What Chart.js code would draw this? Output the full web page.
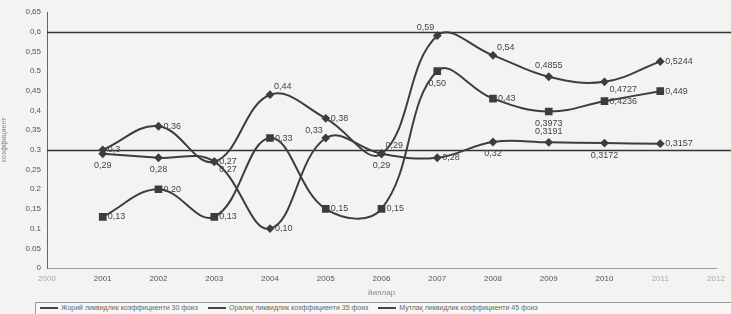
<!DOCTYPE html>
<html>
<head>
<meta charset="utf-8">
<script src="https://cdn.jsdelivr.net/npm/chart.js@4/dist/chart.umd.min.js"></script>
<style>
  body { margin: 0; background: #f3f3f1; }
  #wrap { position: relative; width: 731px; height: 314px; overflow: hidden; }
  #legend {
    position: absolute; left: 35px; top: 302px; width: 694px; height: 14px;
    border: 1px solid #999; background: #f7f7f5;
    font: 7px "Liberation Sans", Arial, sans-serif; color: #666;
    white-space: nowrap; line-height: 10px; padding-left: 4px;
    -webkit-font-smoothing: antialiased;
  }
  #legend span.sw { display: inline-block; width: 18px; height: 2px; background: #444; vertical-align: middle; margin-right: 3px; }
  #legend span.it { margin-right: 10px; }
</style>
</head>
<body>
<div id="wrap">
  <canvas id="c" width="731" height="300"></canvas>
  <div id="legend"></div>
</div>
<script>
let years = ["2000", "2001", "2002", "2003", "2004", "2005", "2006", "2007", "2008", "2009", "2010", "2011", "2012"];

let currentRatio = [null, 0.30, 0.36, 0.27, 0.44, 0.38, 0.29, 0.59, 0.54, 0.4855, 0.4727, 0.5244, null];
let quickRatio = [null, 0.13, 0.20, 0.13, 0.33, 0.15, 0.15, 0.50, 0.43, 0.3973, 0.4236, 0.449, null];
let absoluteRatio = [null, 0.29, 0.28, 0.27, 0.10, 0.33, 0.29, 0.28, 0.32, 0.3191, 0.3172, 0.3157, null];

let seriesNames = [
    "Жорий ликвидлик коэффициенти 30 фоиз",
    "Оралиқ ликвидлик коэффициенти 35 фоиз",
    "Мутлақ ликвидлик коэффициенти 45 фоиз"
];

let yTickLabels = ["0", "0.05", "0.1", "0,15", "0.2", "0,25", "0.3", "0,35", "0,4", "0,45", "0.5", "0,55", "0,6", "0,65"];
let refLines = [0.3, 0.6];

// where each value label sits next to its point
let posA = [null, "r", "r", "br", "tr", "r", "tr", "tl", "tr", "t", "br", "r", null];
let posB = [null, "r", "r", "r", "r", "r", "r", "b", "r", "b", "r", "r", null];
let posC = [null, "b", "b", "r", "r", "tl", "b", "r", "b", "t", "b", "r", null];

function fmt(v) {
    let s = String(v);
    if (s.split(".")[1] && s.split(".")[1].length <= 2) s = v.toFixed(2);
    if (v === 0.3) s = "0.3";
    return s.replace(".", ",");
}

const refLinePlugin = {
    id: "refLines",
    beforeDatasetsDraw(chart) {
        let ctx = chart.ctx;
        let y = chart.scales.y;
        ctx.save();
        ctx.strokeStyle = "#333";
        ctx.lineWidth = 1.5;
        refLines.forEach(v => {
            let py = Math.round(y.getPixelForValue(v)) + 0.5;
            ctx.beginPath();
            ctx.moveTo(chart.chartArea.left, py);
            ctx.lineTo(chart.width, py);
            ctx.stroke();
        });
        ctx.restore();
    }
};

const valueLabels = {
    id: "valueLabels",
    afterDatasetsDraw(chart) {
        let ctx = chart.ctx;
        let positions = [posA, posB, posC];
        ctx.save();
        ctx.font = "9px 'Liberation Sans', Arial, sans-serif";
        ctx.fillStyle = "#444";
        chart.data.datasets.forEach((ds, i) => {
            chart.getDatasetMeta(i).data.forEach((pt, j) => {
                let v = ds.data[j];
                if (v === null) return;
                let p = positions[i][j];
                let t = fmt(v);
                let x = pt.x, yy = pt.y;
                ctx.textBaseline = "middle";
                if (p === "r") { ctx.textAlign = "left"; x += 5; }
                else if (p === "br") { ctx.textAlign = "left"; x += 5; yy += 8; }
                else if (p === "tr") { ctx.textAlign = "left"; x += 4; yy -= 8; }
                else if (p === "tl") { ctx.textAlign = "right"; x -= 3; yy -= 8; }
                else if (p === "t") { ctx.textAlign = "center"; yy -= 11; }
                else if (p === "b") { ctx.textAlign = "center"; yy += 12; }
                ctx.fillText(t, x, yy);
            });
        });
        ctx.restore();
    }
};

function makeSet(label, data, shape, r) {
    return {
        label: label,
        data: data,
        borderColor: "#3d3d3d",
        backgroundColor: "#3d3d3d",
        borderWidth: 2,
        tension: 0.4,
        pointStyle: shape,
        pointRadius: r,
        spanGaps: false
    };
}

new Chart(document.getElementById("c"), {
    type: "line",
    data: {
        labels: years,
        datasets: [
            makeSet(seriesNames[0], currentRatio, "rectRot", 3),
            makeSet(seriesNames[1], quickRatio, "rect", 4),
            makeSet(seriesNames[2], absoluteRatio, "rectRot", 3)
        ]
    },
    options: {
        responsive: false,
        animation: false,
        layout: { padding: { top: 12, right: 15, left: 0, bottom: 0 } },
        plugins: {
            legend: { display: false },
            tooltip: { enabled: false }
        },
        scales: {
            x: {
                offset: false,
                grid: { display: false, drawTicks: false },
                border: { color: "#999", dash: [3, 2] },
                ticks: {
                    color: function (c) { return (c.index === 0 || c.index >= 11) ? "#aaa" : "#555"; },
                    font: { size: 8, family: "'Liberation Sans', Arial" },
                    padding: 6,
                    maxRotation: 0,
                    autoSkip: false
                },
                title: { display: true, text: "йиллар", color: "#888", font: { size: 8 }, padding: 2 },
                afterFit(s) { s.height = 32; }
            },
            y: {
                min: 0,
                max: 0.65,
                grid: { display: false, drawTicks: true, tickLength: 3, color: "#666" },
                border: { color: "#666" },
                ticks: {
                    stepSize: 0.05,
                    color: "#555",
                    font: { size: 8, family: "'Liberation Sans', Arial" },
                    padding: 3,
                    callback: function (v, i) { return yTickLabels[i]; }
                },
                title: { display: true, text: "коэффициент", color: "#888", font: { size: 7 }, padding: 0 },
                afterFit(s) { s.width = 47; }
            }
        }
    },
    plugins: [refLinePlugin, valueLabels]
});

let lg = document.getElementById("legend");
seriesNames.forEach(n => {
    let it = document.createElement("span");
    it.className = "it";
    it.innerHTML = '<span class="sw"></span>' + n;
    lg.appendChild(it);
});
</script>
</body>
</html>
